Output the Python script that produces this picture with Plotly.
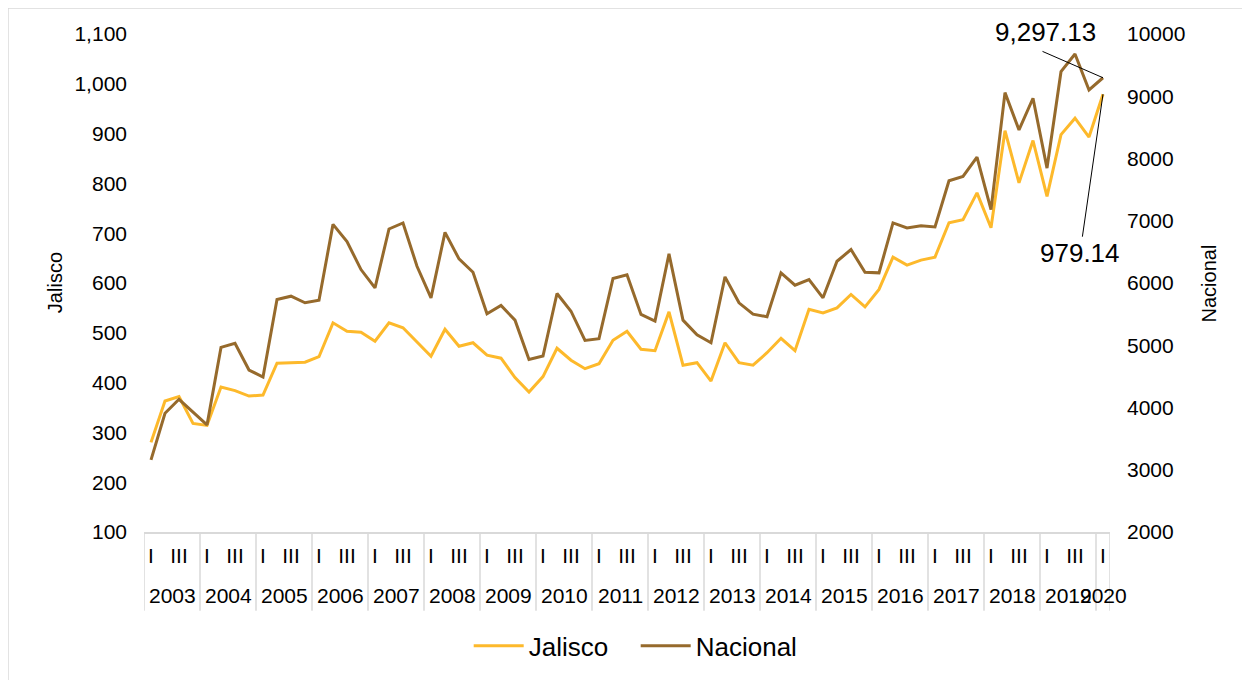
import plotly.graph_objects as go

# quarterly series, 2003-I .. 2020-I
years = [str(y) for y in range(2003, 2021)]
quarters = ["I", "II", "III", "IV"]
periods = [(y, q) for y in years for q in quarters][:69]
quarter_text = [q if q in ("I", "III") else "" for _, q in periods]

jalisco = [280, 363, 372, 318, 314, 391, 384, 373, 375, 439, 440, 441, 452,
           520, 503, 501, 483, 520, 510, 481, 453, 507, 473, 480, 455, 449,
           410, 381, 412, 469, 445, 428, 438, 485, 503, 467, 464, 542, 435,
           440, 403, 480, 440, 435, 460, 489, 464, 547, 540, 550, 577, 552,
           587, 652, 636, 646, 652, 721, 727, 781, 711, 906, 801, 886, 774,
           898, 931, 893, 979.14]
nacional = [3159, 3908, 4132, 3929, 3720, 4966, 5030, 4602, 4490, 5735, 5788,
            5682, 5724, 6942, 6665, 6216, 5922, 6868, 6965, 6269, 5762, 6814,
            6387, 6173, 5506, 5639, 5403, 4773, 4826, 5831, 5547, 5078, 5105,
            6072, 6131, 5495, 5387, 6467, 5403, 5169, 5041, 6099, 5682, 5500,
            5457, 6163, 5964, 6056, 5762, 6349, 6537, 6173, 6163, 6965, 6885,
            6921, 6900, 7643, 7712, 8022, 7178, 9058, 8460, 8968, 7846, 9395,
            9678, 9101, 9297.13]

x = list(range(len(periods)))
yellow = "#FDB92B"
brown = "#966A2C"
grey = "#D9D9D9"
font = "Liberation Sans, Arial, sans-serif"

fig = go.Figure()
fig.add_trace(go.Scatter(x=x, y=jalisco, mode="lines", name="Jalisco",
                         line=dict(color=yellow, width=3)))
fig.add_trace(go.Scatter(x=x, y=nacional, mode="lines", name="Nacional",
                         line=dict(color=brown, width=3), yaxis="y2"))

# year separators and labels under the axis
n_years = len(years)
for k in range(n_years + 1):
    xb = min(4 * k, len(x)) - 0.5
    fig.add_shape(type="line", xref="x", yref="paper", x0=xb, x1=xb,
                  y0=0, y1=-0.158, line=dict(color=grey, width=1.5))
for k, yr in enumerate(years):
    idx = [i for i, p in enumerate(periods) if p[0] == yr]
    fig.add_annotation(x=sum(idx) / len(idx), y=-0.128, xref="x", yref="paper",
                       text=yr, showarrow=False, yanchor="middle",
                       font=dict(size=21, color="#000000"))

# last value labels with leader lines
fig.add_annotation(x=x[-1], y=nacional[-1], yref="y2", text="9,297.13",
                   showarrow=False, xshift=-58, yshift=46,
                   font=dict(size=26, color="#000000"))
fig.add_annotation(x=x[-1], y=nacional[-1], yref="y2", text="",
                   showarrow=True, arrowhead=0, arrowwidth=1, arrowcolor="#000000",
                   ax=-62, ay=-27)
fig.add_annotation(x=x[-1], y=jalisco[-1], yref="y", text="979.14",
                   showarrow=True, arrowhead=0, arrowwidth=1, arrowcolor="#000000",
                   ax=-23, ay=159, font=dict(size=26, color="#000000"))

# axis titles
fig.add_annotation(x=-0.092, y=0.5, xref="paper", yref="paper", text="Jalisco",
                   textangle=-90, showarrow=False, xanchor="center",
                   font=dict(size=20, color="#000000"))
fig.add_annotation(x=1.103, y=0.5, xref="paper", yref="paper", text="Nacional",
                   textangle=-90, showarrow=False, xanchor="center",
                   font=dict(size=20, color="#000000"))

# outer chart border
fig.add_shape(type="rect", xref="paper", yref="paper", x0=-0.1408, x1=1.16,
              y0=-0.32, y1=1.052, line=dict(color=grey, width=1.5))

# page body adds an 8px offset, so the figure is sized/shifted to compensate
fig.update_layout(
    width=1242, height=672,
    margin=dict(l=136, r=140, t=26, b=147),
    paper_bgcolor="white", plot_bgcolor="white",
    font=dict(family=font, size=21, color="#000000"),
    showlegend=True,
    legend=dict(orientation="h", x=0.509, y=-0.226, xanchor="center",
                yanchor="middle", font=dict(size=26), itemwidth=50,
                entrywidth=102, entrywidthmode="pixels"),
    xaxis=dict(range=[-0.5, len(x) - 0.5], tickvals=x, ticktext=quarter_text,
               tickangle=0, ticks="", showgrid=False, zeroline=False,
               showline=True, linecolor=grey, linewidth=1.5,
               ticklabelstandoff=4, tickfont=dict(size=21)),
    yaxis=dict(range=[100, 1100], dtick=100, tickformat=",", ticks="",
               showgrid=False, zeroline=False, showline=False,
               ticklabelstandoff=16),
    yaxis2=dict(range=[2000, 10000], dtick=1000, tickformat="d", ticks="",
                overlaying="y", side="right", showgrid=False, zeroline=False,
                showline=False, ticklabelstandoff=16),
)

fig.write_html("out.html")
